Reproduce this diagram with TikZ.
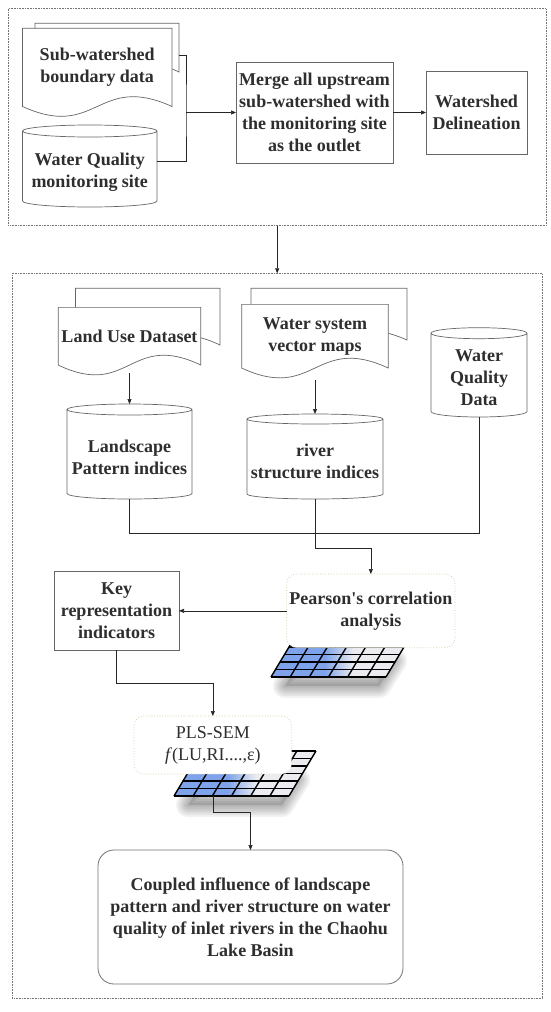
\documentclass[tikz,border=0pt]{standalone}
\usepackage{fontspec}
\setmainfont{Liberation Serif}
\usetikzlibrary{arrows.meta,calc,backgrounds}

\definecolor{ink}{HTML}{2E2E2E}
\definecolor{boxtan}{HTML}{D6C59C}
\definecolor{cellblue}{HTML}{7FA3EA}
\definecolor{cellgray}{HTML}{ECECF0}
\colorlet{cellmid}{cellblue!50!cellgray}
\pgfdeclarehorizontalshading{heatfade}{100bp}{color(0bp)=(cellblue); color(44bp)=(cellblue); color(49bp)=(cellmid); color(54bp)=(cellgray); color(100bp)=(cellgray)}

\tikzset{
  txt/.style={font=\fontsize{18}{22}\selectfont\bfseries, text=ink, align=center, inner sep=0pt, outer sep=0pt},
  stagebox/.style={draw=black!55, line width=0.5pt, dash pattern=on 0.7pt off 0.9pt, inner sep=0pt, outer sep=0pt},
  procbox/.style={txt, draw=black!60, line width=0.7pt},
  softbox/.style={txt, draw=boxtan, dotted, fill=white, rounded corners=10pt, line width=0.7pt},
  endbox/.style={txt, draw=black!55, fill=white, rounded corners=16pt, line width=0.8pt},
  pageline/.style={draw=black!60, fill=white, line width=0.7pt},
  flow/.style={draw=black!85, line width=0.7pt},
  heatgrid/.pic={
    \foreach \w in {24,20,16,12,8,4}
      \draw[black, opacity=0.05, line width=\w pt, line join=round]
        (14,-9) -- (108,-9) -- (124,16) -- (30,16) -- cycle;
    \fill[black, opacity=0.12] (14,-9) -- (108,-9) -- (124,16) -- (30,16) -- cycle;
    \shade[shading=heatfade] (0,0) -- (115,0) -- (142,45) -- (27,45) -- cycle;
    \foreach \i in {0,...,6}
      \draw[line width=1.4pt] ({\i*115/6},0) -- ({27+\i*115/6},45);
    \foreach \j in {0,...,6}
      \draw[line width=1.4pt] ({\j*27/6},{\j*45/6}) -- ({115+\j*27/6},{\j*45/6});
    \coordinate (-base) at (39,0);
  }
}

% front page of a document symbol, wavy foot
\newcommand{\docfront}[1]{%
  \filldraw[pageline] let \p1=(#1.north west), \p2=(#1.south east) in
    (\p1) -- (\x2,\y1) -- (\p2)
    .. controls ({(\x1+\x2)/2},\y2+34pt) and ({(\x1+\x2)/2},\y2-34pt) .. (\x1,\y2) -- cycle;}
% back page, given by corners
\newcommand{\docback}[4]{%
  \filldraw[pageline] (#1,#2) -- (#3,#2) -- (#3,#4)
    .. controls ({(#1+#3)/2},#4+34) and ({(#1+#3)/2},#4-34) .. (#1,#4) -- cycle;}
% database drum round a node, node = body under the lid
\newcommand{\drum}[2]{%
  \filldraw[pageline] let \p1=(#1.north west), \p2=(#1.south east), \n1={(\x2-\x1)/2} in
    (\x1,\y1+#2pt) -- (\x1,\y2+#2pt)
    arc[start angle=180, end angle=360, x radius=\n1, y radius=#2pt]
    -- (\x2,\y1+#2pt)
    arc[start angle=0, end angle=180, x radius=\n1, y radius=#2pt]
    arc[start angle=180, end angle=360, x radius=\n1, y radius=#2pt];
  \path (#1.north) ++(0,2*#2) coordinate (#1-top);}

\begin{document}
\begin{tikzpicture}[x=1pt, y=1pt, >={Triangle[length=5pt,width=4pt]}]
\path[use as bounding box] (0,0) rectangle (550,-1012);

% stage 1
\node[stagebox, minimum width=537.6pt, minimum height=217.2pt] (stage1) at (277.2,-117.1) {};
\node[txt, minimum width=149.5pt, minimum height=78.2pt] (subw) at (97.25,-67.4) {Sub-watershed\\boundary data};
\node[txt, minimum width=134.5pt, minimum height=70pt] (wqms) at (89.75,-172) {Water Quality\\monitoring site};
\node[procbox, minimum width=157pt, minimum height=101pt] (merge) at (314.5,-112.5) {Merge all upstream\\sub-watershed with\\the monitoring site\\as the outlet};
\node[procbox, minimum width=101pt, minimum height=83pt] (shed) at (476.5,-112.5) {Watershed\\Delineation};
\coordinate (subwback) at (179,-55);
\coordinate (jn) at (186,-112.5);

% stage 2
\node[stagebox, minimum width=529.6pt, minimum height=724.7pt] (stage2) at (277.2,-635.65) {};
\node[txt, minimum width=142.6pt, minimum height=57.7pt] (landuse) at (129.5,-336.2) {Land Use Dataset};
\node[txt, minimum width=146.6pt, minimum height=63.7pt] (wsys) at (315,-336.2) {Water system\\vector maps};
\node[txt, minimum width=96pt, minimum height=78.3pt] (wqd) at (479,-377.85) {Water\\Quality\\Data};
\node[txt, minimum width=125pt, minimum height=84pt] (lsi) at (129.5,-457) {Landscape\\Pattern indices};
\node[txt, minimum width=136pt, minimum height=75pt] (river) at (315,-461.5) {river\\structure indices};

\pic (pgrid) at (271,-677) {heatgrid};
\node[softbox, minimum width=168.3pt, minimum height=73.7pt] (pearson) at (370.85,-610.85) {Pearson\textquotesingle s correlation\\analysis};
\node[procbox, minimum width=125pt, minimum height=78.3pt] (key) at (116.5,-610.85) {Key\\representation\\indicators};
\pic (sgrid) at (174,-796) {heatgrid};
\node[softbox, font=\fontsize{18}{22}\selectfont, minimum width=157.7pt, minimum height=58pt] (pls) at (212.85,-745) {PLS-SEM\\\textit{f}(LU,RI....,ε)};
\node[endbox, minimum width=305pt, minimum height=134pt] (result) at (250.5,-917) {Coupled influence of landscape\\pattern and river structure on water\\quality of inlet rivers in the Chaohu\\Lake Basin};

\begin{scope}[on background layer]
\fill[white] (0,0) rectangle (550,-1012);
\docback{35}{-23.3}{179}{-72}
\docfront{subw}
\drum{wqms}{6}
\docback{75.4}{-288.3}{220}{-345}
\docfront{landuse}
\docback{251}{-288.3}{407}{-340}
\docfront{wsys}
\drum{wqd}{5.5}
\drum{lsi}{5.5}
\drum{river}{5}
\end{scope}

\draw[flow] (subwback) -| (jn) |- (wqms.9);
\draw[flow,->] (jn) -- (merge);
\draw[flow,->] (merge) -- (shed);
\draw[flow,->] (stage1.south) -- (stage2.north);

\draw[flow,->,shorten <=8pt] (landuse.south) -- (lsi-top);
\draw[flow,->,shorten <=12pt] (wsys.south) -- (river-top);
\draw[flow] (lsi.south) -- ++(0,-34) -| (wqd.south);
\draw[flow,->] (river.south) -- ++(0,-49) -| (pearson.north);
\draw[flow,->] (pearson) -- (key);
\draw[flow,->] (key.south) -- ++(0,-33) -| (pls.north);
\draw[flow,->] (sgrid-base) -- ++(0,-16) -| (result.north);
\end{tikzpicture}
\end{document}
